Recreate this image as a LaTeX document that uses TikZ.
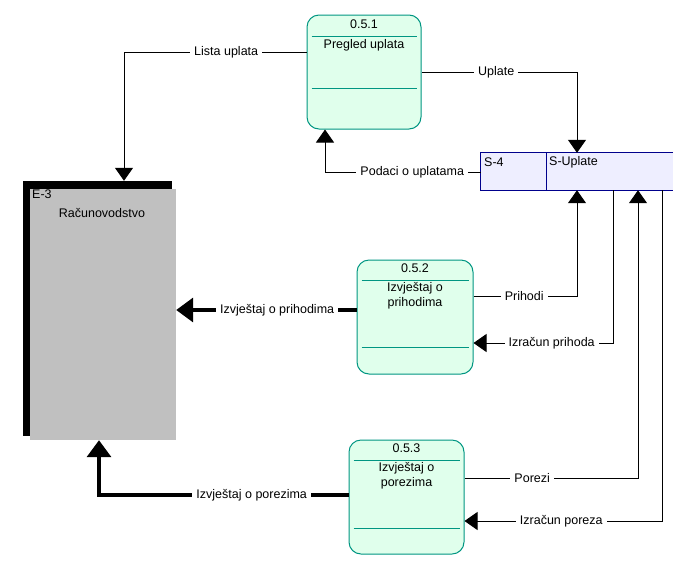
\documentclass[tikz,border=0pt]{standalone}
\usepackage{fontspec}
\setmainfont{Liberation Sans}
\usetikzlibrary{arrows.meta}

\definecolor{procfill}{RGB}{224,255,236}
\definecolor{procline}{RGB}{0,150,130}
\definecolor{storefill}{RGB}{238,238,255}
\definecolor{storeline}{RGB}{0,0,140}
\definecolor{entityfill}{RGB}{192,192,192}

\begin{document}
\begin{tikzpicture}[x=1pt, y=-1pt,
        every node/.style={font=\fontsize{12.5}{15}\selectfont},
        proc/.style={rectangle, rounded corners=12pt, draw=procline, fill=procfill, line width=1pt, minimum height=114pt},
        pline/.style={draw=procline, line width=1pt},
        ptext/.style={anchor=north, align=center, inner sep=0pt},
        store/.style={rectangle, fill=storefill, minimum width=192pt, minimum height=37pt},
        sline/.style={draw=storeline, line width=1pt},
        entity/.style={rectangle, fill=entityfill, minimum width=146pt, minimum height=251pt},
        lbl/.style={fill=white, inner xsep=4pt, inner ysep=1.5pt},
        flow/.style={line width=1pt, -{Triangle[length=13pt, width=18pt]}},
        bigflow/.style={line width=3.5pt, -{Triangle[length=17pt, width=24pt]}}
    ]
    \useasboundingbox (0,0) rectangle (684,563);

    % entity
    \node[rectangle, fill=black, minimum width=149pt, minimum height=255pt] (e3s) at (97.5,308.5) {};
    \node[entity] (e3) at (103,314.5) {};
    \node[anchor=north west, inner sep=0pt] (e3id) at (32,190) {E-3};
    \node (e3name) at (102,213) {Računovodstvo};

    % store
    \node[store] (s4) at (577,171.5) {};
    \draw[sline] (s4.north east) -- (s4.north west) -- (s4.south west) -- (s4.south east);
    \draw[sline] (546,0 |- s4.north) -- (546,0 |- s4.south);
    \node[anchor=west, inner sep=0pt] (s4id) at (484,162) {S-4};
    \node[anchor=west, inner sep=0pt] (s4name) at (549,162) {S-Uplate};

    % processes
    \node[proc, minimum width=114pt] (p1) at (364,72) {};
    \node[ptext] (p1id) at ([yshift=-5pt]p1.north) {0.5.1};
    \draw[pline] ([xshift=5pt, yshift=-22pt]p1.north west) -- ([xshift=-5pt, yshift=-22pt]p1.north east);
    \node[ptext] (p1name) at ([yshift=-25pt]p1.north) {Pregled uplata};
    \draw[pline] ([xshift=5pt, yshift=41pt]p1.south west) -- ([xshift=-5pt, yshift=41pt]p1.south east);

    \node[proc, minimum width=116pt] (p2) at (415,317) {};
    \node[ptext] (p2id) at ([yshift=-4pt]p2.north) {0.5.2};
    \draw[pline] ([xshift=5pt, yshift=-21pt]p2.north west) -- ([xshift=-5pt, yshift=-21pt]p2.north east);
    \node[ptext] (p2name) at ([yshift=-23pt]p2.north) {Izvještaj o\\prihodima};
    \draw[pline] ([xshift=5pt, yshift=27pt]p2.south west) -- ([xshift=-5pt, yshift=27pt]p2.south east);

    \node[proc, minimum width=115pt] (p3) at (406.5,497) {};
    \node[ptext] (p3id) at ([yshift=-4pt]p3.north) {0.5.3};
    \draw[pline] ([xshift=5pt, yshift=-21pt]p3.north west) -- ([xshift=-5pt, yshift=-21pt]p3.north east);
    \node[ptext] (p3name) at ([yshift=-23pt]p3.north) {Izvještaj o\\porezima};
    \draw[pline] ([xshift=5pt, yshift=26pt]p3.south west) -- ([xshift=-5pt, yshift=26pt]p3.south east);

    % flows
    \draw[flow] (p1.west |- 0,52) -| node[lbl, pos=0.22] {Lista uplata} (124,0 |- e3s.north);
    \draw[flow] (p1.east) -| node[lbl, pos=0.24] {Uplate} (577,0 |- s4.north);
    \draw[flow] (s4.west |- 0,172) -| node[lbl, pos=0.22] {Podaci o uplatama} (325,0 |- p1.south);
    \draw[flow] (p2.east |- 0,296) -| node[lbl, pos=0.245] {Prihodi} (577,0 |- s4.south);
    \draw[flow] (613,0 |- s4.south) |- node[lbl, pos=0.72] {Izračun prihoda} (p2.east |- 0,343);
    \draw[flow] (p3.east |- 0,478) -| node[lbl, pos=0.195] {Porezi} (638,0 |- s4.south);
    \draw[flow] (662,0 |- s4.south) |- node[lbl, pos=0.755] {Izračun poreza} (p3.east |- 0,521);
    \draw[bigflow] (p2.west |- 0,310) -- node[lbl, pos=0.44] {Izvještaj o prihodima} (e3.east |- 0,310);
    \draw[bigflow] (p3.west |- 0,495) -| node[lbl, pos=0.194] {Izvještaj o porezima} (99,0 |- e3.south);
\end{tikzpicture}
\end{document}
